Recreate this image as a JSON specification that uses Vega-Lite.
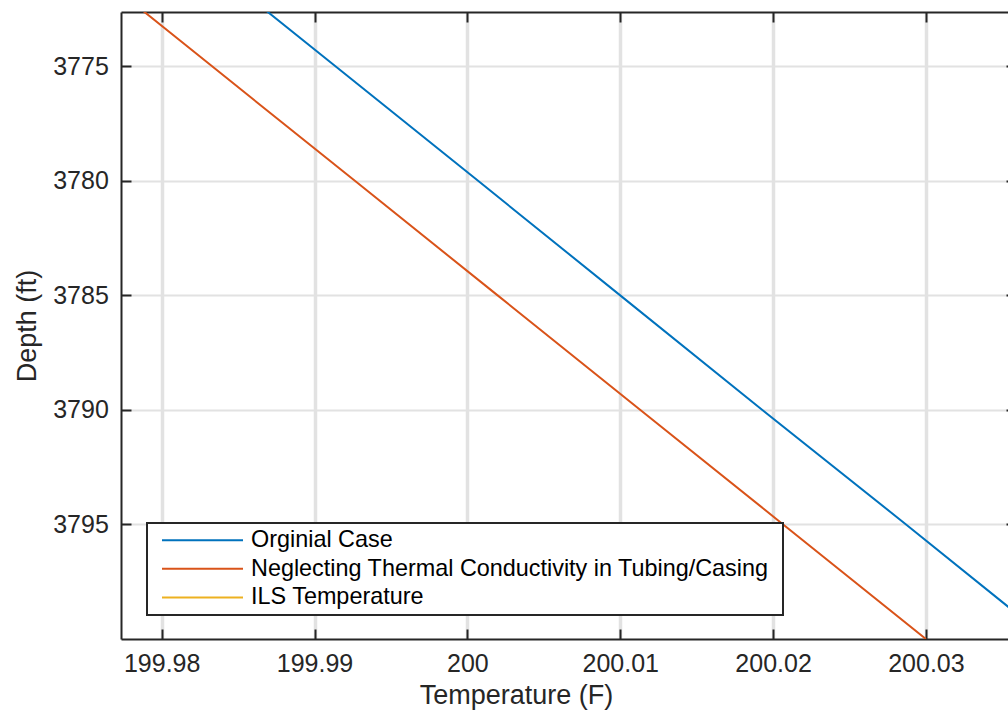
{
  "$schema": "https://vega.github.io/schema/vega-lite/v6.json",
  "width": 887,
  "height": 627,
  "autosize": {"type": "none"},
  "padding": {"left": 121, "top": 12, "right": 0, "bottom": 74},
  "background": "white",
  "config": {
    "font": "Liberation Sans",
    "view": {"stroke": null},
    "axis": {
      "domainColor": "#262626",
      "domainWidth": 2,
      "tickColor": "#262626",
      "tickWidth": 2,
      "tickSize": -10,
      "labelColor": "#262626",
      "labelFont": "Liberation Sans",
      "labelFontSize": 25,
      "titleColor": "#262626",
      "titleFont": "Liberation Sans",
      "titleFontSize": 27,
      "titleFontWeight": "normal",
      "gridColor": "#e2e2e2"
    },
    "legend": {
      "orient": "none",
      "legendX": 26,
      "legendY": 511,
      "padding": 5.5,
      "strokeColor": "#262626",
      "strokeWidth": 2,
      "fillColor": "white",
      "symbolType": "M-2.2,0H78.8",
      "symbolSize": 4,
      "symbolStrokeWidth": 2,
      "labelOffset": 75.1,
      "labelFont": "Liberation Sans",
      "labelFontSize": 23.4,
      "labelColor": "#000000",
      "labelLimit": 0,
      "rowPadding": 3.6,
      "titleOrient": "right",
      "titleFontSize": 23.4,
      "titlePadding": 9
    }
  },
  "data": {
    "values": [
      {"series": "Orginial Case", "depth": 3772, "temp": 199.98577},
      {"series": "Orginial Case", "depth": 3775, "temp": 199.99137},
      {"series": "Orginial Case", "depth": 3780, "temp": 200.0007},
      {"series": "Orginial Case", "depth": 3785, "temp": 200.0100},
      {"series": "Orginial Case", "depth": 3790, "temp": 200.0193},
      {"series": "Orginial Case", "depth": 3795, "temp": 200.0287},
      {"series": "Orginial Case", "depth": 3800, "temp": 200.0380},
      {"series": "Neglecting Thermal Conductivity in Tubing/Casing", "depth": 3772, "temp": 199.9777},
      {"series": "Neglecting Thermal Conductivity in Tubing/Casing", "depth": 3775, "temp": 199.9833},
      {"series": "Neglecting Thermal Conductivity in Tubing/Casing", "depth": 3780, "temp": 199.99264},
      {"series": "Neglecting Thermal Conductivity in Tubing/Casing", "depth": 3785, "temp": 200.00198},
      {"series": "Neglecting Thermal Conductivity in Tubing/Casing", "depth": 3790, "temp": 200.01132},
      {"series": "Neglecting Thermal Conductivity in Tubing/Casing", "depth": 3795, "temp": 200.02066},
      {"series": "Neglecting Thermal Conductivity in Tubing/Casing", "depth": 3800, "temp": 200.0300}
    ]
  },
  "layer": [
    {
      "mark": {"type": "line", "clip": true, "strokeWidth": 2},
      "encoding": {
        "x": {
          "field": "temp",
          "type": "quantitative",
          "scale": {"domain": [199.97734, 200.03537], "nice": false, "zero": false},
          "axis": {
            "orient": "bottom",
            "values": [199.98, 199.99, 200, 200.01, 200.02, 200.03],
            "format": ".2~f",
            "labelPadding": 22.5,
            "grid": true,
            "gridWidth": 3.5,
            "title": "Temperature (F)",
            "titlePadding": 6,
            "titleX": 395
          }
        },
        "y": {
          "field": "depth",
          "type": "quantitative",
          "scale": {"domain": [3772.63, 3800], "reverse": true, "nice": false, "zero": false},
          "axis": {
            "orient": "left",
            "values": [3775, 3780, 3785, 3790, 3795],
            "format": "d",
            "labelPadding": 22.7,
            "grid": true,
            "gridWidth": 2,
            "title": "Depth (ft)",
            "titlePadding": 11
          }
        },
        "color": {
          "field": "series",
          "type": "nominal",
          "scale": {
            "domain": ["Orginial Case", "Neglecting Thermal Conductivity in Tubing/Casing", "ILS Temperature"],
            "range": ["#0072BD", "#D95319", "#EDB120"]
          },
          "legend": {"title": "\u00a0"}
        },
        "order": {"field": "depth"}
      }
    },
    {
      "mark": {"type": "line", "clip": true, "opacity": 0},
      "encoding": {
        "x": {
          "field": "temp",
          "type": "quantitative",
          "scale": {"domain": [199.97734, 200.03537], "nice": false, "zero": false},
          "axis": {
            "orient": "top",
            "values": [199.98, 199.99, 200, 200.01, 200.02, 200.03],
            "labels": false,
            "grid": false,
            "title": null
          }
        },
        "y": {
          "field": "depth",
          "type": "quantitative",
          "scale": {"domain": [3772.63, 3800], "reverse": true, "nice": false, "zero": false},
          "axis": {
            "orient": "right",
            "values": [3775, 3780, 3785, 3790, 3795],
            "labels": false,
            "domain": false,
            "tickSize": -2,
            "grid": false,
            "title": null
          }
        },
        "detail": {"field": "series", "type": "nominal"},
        "order": {"field": "depth"}
      }
    }
  ],
  "resolve": {"axis": {"x": "independent", "y": "independent"}}
}
